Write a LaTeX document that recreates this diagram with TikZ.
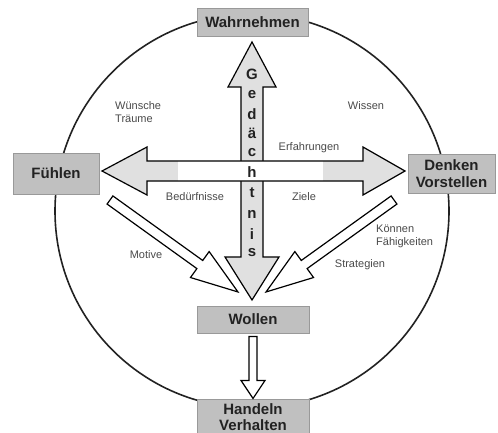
\documentclass[tikz,border=0pt]{standalone}
\usepackage{fontspec}
\setmainfont{Liberation Sans}
\usetikzlibrary{calc}
\definecolor{boxfill}{HTML}{C0C0C0}
\definecolor{boxline}{HTML}{999999}
\definecolor{arrowfill}{HTML}{E0E0E0}
\definecolor{labelgray}{HTML}{4A4A4A}
\definecolor{ink}{HTML}{222222}
\begin{document}
\begin{tikzpicture}[x=1pt,y=-1pt,
  stage/.style={draw=boxline, fill=boxfill, line width=0.9pt, inner sep=0pt,
    align=center, font=\fontsize{15}{17}\selectfont\bfseries, text=ink},
  cue/.style={font=\fontsize{11}{13}\selectfont, text=labelgray, inner sep=0pt},
  block/.style={draw=black, line width=1.2pt, line join=miter},
  letter/.style={font=\fontsize{15}{15}\selectfont\bfseries, text=ink, inner sep=0pt}]
\clip (0,0) rectangle (498,433);
\fill[white] (0,0) rectangle (498,433);

% outer circle
\draw[line width=1.6pt, ink] (252,211) circle (197pt);

% stages
\node[stage, minimum width=111pt, minimum height=28pt] (wahr) at (252.5,22) {Wahrnehmen};
\node[stage, minimum width=86pt, minimum height=41pt] (fuehlen) at (56,173.5) {Fühlen};
\node[stage, minimum width=87pt, minimum height=39pt] (denken) at (451.5,173.5) {Denken\\Vorstellen};
\node[stage, minimum width=112pt, minimum height=27pt] (wollen) at (253,319.5) {Wollen};
\node[stage, minimum width=112pt, minimum height=41pt, anchor=north] (handeln) at (253,399) {};
\node[font=\fontsize{15}{16.5}\selectfont\bfseries, text=ink, align=center, inner sep=0pt]
  (handelntext) at (253,417) {Handeln\\Verhalten};

% vertical memory arrow
\filldraw[block, fill=arrowfill]
  (252,42) -- (276,87) -- (263,87) -- (263,257) -- (279,257) -- (252,300)
  -- (225,257) -- (241,257) -- (241,87) -- (228,87) -- cycle;

% horizontal double arrow
\fill[arrowfill]
  (102,171) -- (147,147) -- (147,161) -- (363,161) -- (363,147) -- (405,171)
  -- (363,195) -- (363,181) -- (147,181) -- (147,195) -- cycle;
\fill[white] (178,161) rectangle (323,181);
\draw[block]
  (102,171) -- (147,147) -- (147,161) -- (363,161) -- (363,147) -- (405,171)
  -- (363,195) -- (363,181) -- (147,181) -- (147,195) -- cycle;

% letters of the vertical arrow
\foreach \ch/\yy [count=\k] in {G/74,e/95,d/114,ä/133,c/153,h/172,t/193,n/214,i/234,s/253}
  \node[letter] (g\k) at (252,\yy) {\ch};

% diagonal arrows into Wollen
\begin{scope}[shift={(110,200)}, rotate=-35.7]
  \filldraw[block, fill=white]
    (0,-5) -- (110.6,-5) -- (110.6,-16) -- (157.6,0) -- (110.6,16) -- (110.6,5) -- (0,5) -- cycle;
\end{scope}
\begin{scope}[shift={(394,200)}, rotate=-144.3]
  \filldraw[block, fill=white]
    (0,-5) -- (110.6,-5) -- (110.6,-16) -- (157.6,0) -- (110.6,16) -- (110.6,5) -- (0,5) -- cycle;
\end{scope}

% Wollen -> Handeln
\begin{scope}[shift={(wollen.south)}]
  \filldraw[block, fill=white]
    (-4,3) -- (4,3) -- (4,47) -- (12,47) -- (0,65) -- (-12,47) -- (-4,47) -- cycle;
\end{scope}

% labels
\node[cue, anchor=west, align=left] (wuensche) at (115,112.5) {Wünsche\\Träume};
\node[cue] (wissen) at (366,106) {Wissen};
\node[cue] (erfahr) at (309,148) {Erfahrungen};
\node[cue] (beduerf) at (195,197) {Bedürfnisse};
\node[cue] (ziele) at (304,197) {Ziele};
\node[cue] (motive) at (146,255) {Motive};
\node[cue] (strat) at (360,265) {Strategien};
\node[cue, anchor=west, align=left] (koennen) at (376,236.5) {Können\\Fähigkeiten};
\end{tikzpicture}
\end{document}
